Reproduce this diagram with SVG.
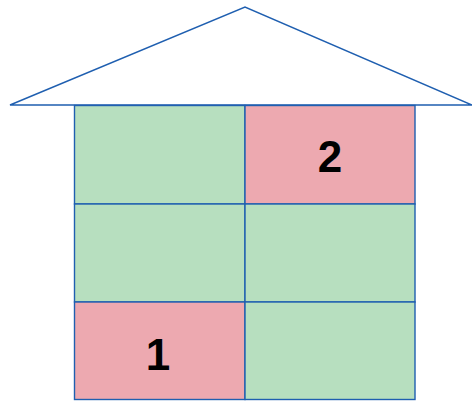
<svg xmlns="http://www.w3.org/2000/svg" width="472" height="401" viewBox="0 0 472 401">
<style>
.c{stroke:#1f5fb0;stroke-width:1.4}
.g{fill:#b7dfbf}
.p{fill:#eda9b0}
.t{font-family:"Liberation Sans",Arial,sans-serif;font-weight:bold;font-size:44px;fill:#000;text-anchor:middle}
</style>
<rect width="472" height="401" fill="#fff"/>
<g id="roof"><polygon points="10,105 245,7 472,105" fill="#fff" class="c"/></g>
<g id="cell-r1c1"><rect x="74.5" y="105.5" width="170.5" height="98.5" class="c g"/></g>
<g id="cell-r1c2"><rect x="245" y="105.5" width="170" height="98.5" class="c p"/><text x="330" y="172" class="t">2</text></g>
<g id="cell-r2c1"><rect x="74.5" y="204" width="170.5" height="98" class="c g"/></g>
<g id="cell-r2c2"><rect x="245" y="204" width="170" height="98" class="c g"/></g>
<g id="cell-r3c1"><rect x="74.5" y="302" width="170.5" height="97.5" class="c p"/><text x="158" y="370" class="t">1</text></g>
<g id="cell-r3c2"><rect x="245" y="302" width="170" height="97.5" class="c g"/></g>
</svg>
